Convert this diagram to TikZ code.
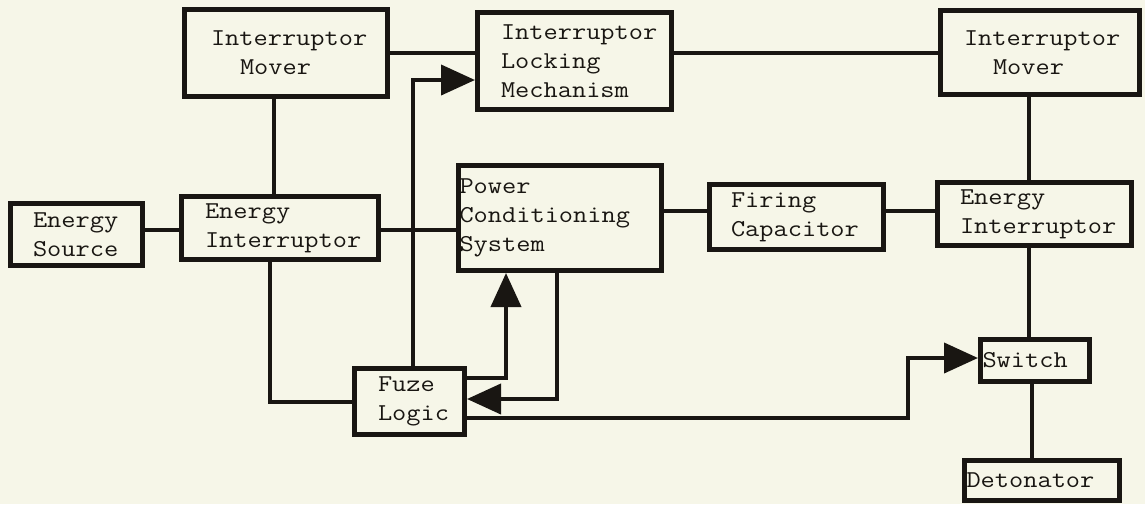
\documentclass[tikz,border=0pt]{standalone}
\usepackage{fontspec}
\usetikzlibrary{arrows.meta}
\newfontfamily\blockfont[FakeStretch=1.14]{Latin Modern Mono}
\definecolor{paper}{RGB}{246,246,232}
\definecolor{ink}{RGB}{25,22,18}
\begin{document}
\begin{tikzpicture}[x=1pt,y=-1pt,line join=miter,>={Triangle[length=34pt,width=30pt]},
  block/.style={draw=ink,line width=5pt,text=ink,align=left,inner ysep=0pt,
    font=\blockfont\fontsize{24.2}{29}\selectfont\hyphenpenalty10000\relax},
  wire/.style={draw=ink,line width=4pt},
  arr/.style={wire,->}]
  \fill[paper] (0,0) rectangle (1145,504);
  \useasboundingbox (0,0) rectangle (1145,504);
  \node[block,minimum width=203pt,minimum height=87pt,inner xsep=26.5pt,text width=150pt] (imovl) at (286,53) {Interruptor\\\hspace*{29pt}Mover};
  \node[block,minimum width=194pt,minimum height=97pt,inner xsep=23.5pt,text width=147pt] (ilm) at (574.5,61) {Interruptor\\Locking\\Mechanism};
  \node[block,minimum width=199pt,minimum height=84pt,inner xsep=23.5pt,text width=152pt] (imovr) at (1040,52.5) {Interruptor\\\hspace*{29pt}Mover};
  \node[block,minimum width=132pt,minimum height=62pt,inner xsep=22.5pt,text width=87pt] (esrc) at (76.5,234.5) {Energy\\Source};
  \node[block,minimum width=197pt,minimum height=63pt,inner xsep=23.5pt,text width=150pt] (eintl) at (280,228) {Energy\\Interruptor};
  \node[block,minimum width=203pt,minimum height=105pt,inner xsep=1pt,text width=201pt] (pcs) at (560,218) {Power\\Conditioning\\System};
  \node[block,minimum width=174pt,minimum height=65pt,inner xsep=21.5pt,text width=131pt] (fcap) at (796.5,217) {Firing\\Capacitor};
  \node[block,minimum width=194pt,minimum height=63pt,inner xsep=22.5pt,text width=149pt] (eintr) at (1034.5,214) {Energy\\Interruptor};
  \node[block,minimum width=110pt,minimum height=66pt,inner xsep=23.5pt,text width=63pt] (fuze) at (409.5,401.5) {Fuze\\Logic};
  \node[block,minimum width=109pt,minimum height=42pt,inner xsep=2pt,text width=105pt] (sw) at (1035,360.5) {Switch};
  \node[block,minimum width=155pt,minimum height=40pt,inner xsep=2pt,text width=151pt] (det) at (1042,480.5) {Detonator};
  \coordinate (kink) at ([xshift=-70pt,yshift=2.5pt]sw.west);
  \draw[wire] (imovl.east) -- (imovl.east -| ilm.west);
  \draw[wire] (imovr.west) -- (imovr.west -| ilm.east);
  \draw[wire] ([xshift=-6pt]eintl.north) -- ([xshift=-6pt]eintl.north |- imovl.south);
  \draw[wire] ([xshift=-5.5pt]eintr.north) -- ([xshift=-5.5pt]eintr.north |- imovr.south);
  \draw[wire] ([yshift=-2pt]eintl.west) -- ([yshift=-2pt]eintl.west -| esrc.east);
  \draw[wire] ([yshift=-2pt]eintl.east) -- ([yshift=-2pt]eintl.east -| pcs.west);
  \draw[wire] ([yshift=6pt]fcap.west) -- ([yshift=6pt]fcap.west -| pcs.east);
  \draw[wire] ([yshift=3pt]eintr.west) -- ([yshift=3pt]eintr.west -| fcap.east);
  \draw[wire] ([xshift=-6pt]sw.north) -- ([xshift=-6pt]sw.north |- eintr.south);
  \draw[wire] ([xshift=-3pt]sw.south) -- ([xshift=-3pt]sw.south |- det.north);
  \draw[wire] (fuze.west) -| ([xshift=-10pt]eintl.south);
  \draw[arr] ([xshift=3.5pt]fuze.north) |- ([yshift=-19pt]ilm.west);
  \draw[arr] ([yshift=23.5pt]fuze.east) -| ([xshift=-54pt]pcs.south);
  \draw[arr] ([xshift=-3pt]pcs.south) |- ([yshift=2.5pt]fuze.east);
  \draw[arr] ([yshift=-16.5pt]fuze.east) -| (kink) -- ([yshift=2.5pt]sw.west);
\end{tikzpicture}
\end{document}
